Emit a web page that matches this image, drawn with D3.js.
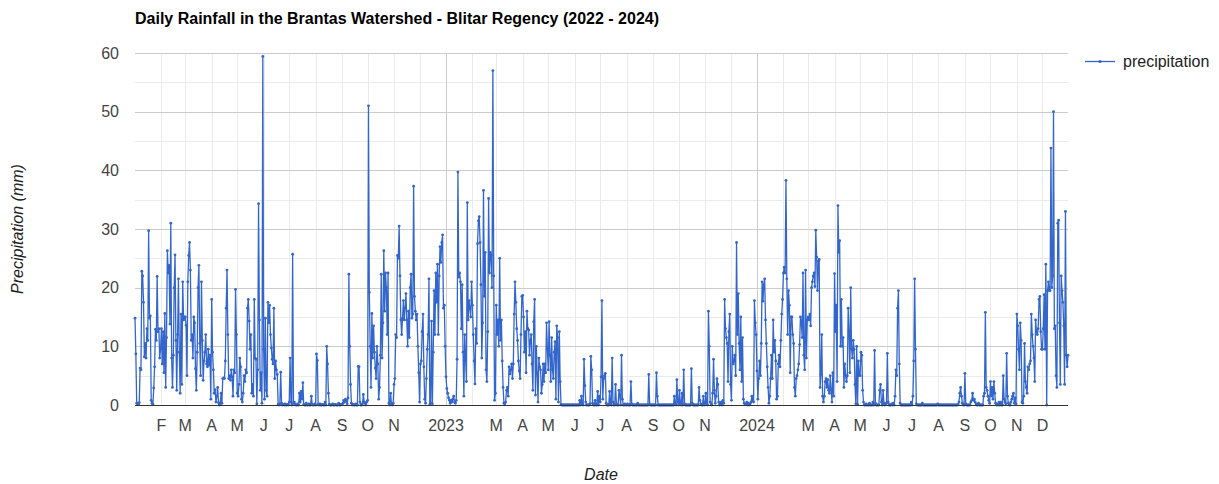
<!DOCTYPE html>
<html><head><meta charset="utf-8">
<script src="https://cdn.jsdelivr.net/npm/d3@7"></script>
<style>body{margin:0;background:#fff}svg{display:block;font-family:Arial,"Liberation Sans",sans-serif}</style>
</head><body><svg id="c" width="1219" height="484"></svg>
<script>
// Daily precipitation (mm), one inner array per month (Jan..Dec)
const rain2022 = [
 [14.8,8.7,0.3,0.2,0.1,0.4,6.3,6.0,22.8,22.0,17.5,8.2,10.5,8.0,13.0,11.0,29.7,14.8,15.2,0.8,0.3,0.1,2.9,6.5,12.9,11.0,21.9,12.5,13.0,8.0,9.5],
 [13.0,7.0,12.5,5.5,15.6,3.0,11.5,26.3,22.5,23.8,13.8,31.0,8.0,3.0,8.5,20.0,25.6,11.0,2.5,12.0,21.5,9.0,2.0,15.5,3.5,21.0,14.5,15.0],
 [15.0,13.6,5.0,21.0,25.5,27.7,23.0,11.0,12.0,8.0,15.0,14.0,6.2,2.5,9.0,20.0,23.8,10.5,5.0,21.0,11.0,4.2,7.5,9.0,12.0,7.0,6.5,9.5,6.8,8.5,1.0],
 [18.0,9.0,6.0,2.0,2.6,0.5,1.5,3.0,0.4,0.0,0.2,2.0,0.3,4.5,4.6,4.5,7.5,16.5,23.0,12.0,4.5,5.0,4.2,6.0,4.8,1.5,6.0,5.5,19.7,12.0],
 [2.0,1.5,3.5,8.0,6.5,1.0,0.5,2.0,5.0,4.0,6.0,5.5,16.5,18.0,14.3,9.5,12.0,2.0,3.5,1.5,18.0,8.0,7.8,0.2,6.0,34.3,14.5,2.5,5.5,0.3,59.4],
 [9.5,1.0,14.8,2.5,1.5,17.5,14.0,17.0,12.0,9.7,7.8,7.0,16.5,4.5,7.5,6.0,5.2,0.1,0.0,0.2,5.6,0.3,0.0,0.1,0.0,0.2,0.0,0.0,0.1,0.0],
 [0.5,8.0,0.5,0.0,25.7,0.3,0.5,0.1,0.0,0.0,0.2,0.0,2.0,0.5,2.3,1.0,3.8,0.1,0.0,0.0,0.3,0.0,0.0,0.2,0.0,0.0,1.5,0.1,0.0,0.0,0.2],
 [0.0,8.7,7.6,0.1,0.0,0.2,0.0,0.0,0.1,0.0,0.0,0.5,0.0,10.0,7.0,2.0,0.1,0.0,0.0,0.0,0.2,0.0,0.0,0.1,0.0,0.0,0.0,0.3,0.0,0.0,0.1],
 [0.1,0.3,0.8,0.5,1.0,0.8,0.2,1.2,22.3,10.0,3.5,0.3,0.0,0.1,0.0,0.0,0.2,0.0,0.0,6.6,6.5,0.5,0.0,0.0,0.2,1.8,0.5,0.3,0.0,0.5],
 [0.8,51.0,19.2,10.0,3.0,15.6,8.0,13.5,9.0,6.3,4.5,10.0,7.0,1.0,3.0,8.5,22.3,8.0,14.0,26.3,16.0,22.5,20.0,12.0,22.5,0.3,0.0,2.0,0.1,0.0,0.3],
 [3.5,4.5,12.0,11.5,25.5,25.0,30.5,22.0,14.5,12.0,14.8,17.8,14.5,16.5,19.0,14.5,10.0,16.0,11.5,20.0,22.3,14.8,15.5,37.3,18.5,16.0,14.5,15.5,10.0,5.5],
 [0.5,7.0,7.5,12.5,15.5,6.5,1.0,0.3,4.5,9.5,12.0,21.5,0.1,0.3,14.3,0.2,9.0,19.5,12.0,22.5,17.5,24.0,12.0,22.0,27.0,24.3,27.7,29.0,16.5,17.0,10.0]
];
const rain2023 = [
 [4.8,2.8,2.0,1.2,0.8,0.3,0.8,0.5,1.0,1.5,0.5,0.3,0.8,7.8,39.7,21.8,22.5,21.0,13.0,20.5,9.0,1.5,12.0,8.0,4.0,34.5,14.5,17.8,16.5,15.0,21.0],
 [17.0,12.0,7.5,3.6,13.0,10.5,27.5,31.4,32.1,27.7,20.5,8.0,14.0,36.6,18.5,26.0,6.0,4.0,12.5,35.2,22.5,26.0,25.5,20.0,57.0,22.0,0.8,2.0],
 [17.0,12.0,14.5,10.0,25.0,11.0,14.5,7.5,3.0,0.3,0.2,0.5,2.5,3.0,1.5,6.5,5.3,6.0,7.0,4.5,7.0,15.5,21.0,17.5,13.0,11.0,7.5,5.8,4.5,12.0,18.5],
 [18.7,15.0,9.0,12.5,5.5,16.0,13.0,12.8,8.5,11.0,12.0,7.0,2.5,14.2,18.0,1.7,10.0,5.5,0.5,8.0,6.5,6.0,2.0,3.5,7.0,4.0,7.0,5.5,14.0,9.5],
 [6.0,14.2,8.5,4.0,11.5,6.0,4.5,9.0,10.8,1.0,13.5,11.5,0.5,12.5,4.0,0.1,0.0,0.0,0.0,0.0,0.0,0.0,0.0,0.0,0.0,0.0,0.0,0.0,0.0,0.0,0.0],
 [0.0,0.0,0.0,0.0,0.0,0.0,0.8,0.0,1.5,0.2,0.0,7.8,3.3,0.5,0.0,0.0,0.0,0.0,0.2,8.3,6.0,0.3,0.0,0.0,0.8,0.0,0.0,2.3,0.0,1.5],
 [0.5,4.8,17.8,1.0,4.5,5.0,5.4,0.3,0.0,0.0,0.0,2.3,0.3,0.0,8.0,0.5,0.0,0.0,3.5,0.2,0.0,0.0,2.5,1.5,0.0,8.5,1.0,0.0,0.0,0.2,0.0],
 [0.0,0.2,0.0,0.0,0.0,4.0,0.2,0.0,0.0,0.0,0.0,0.0,0.0,0.3,0.0,0.0,0.0,0.0,0.0,0.0,0.0,0.0,0.0,0.0,0.0,0.0,5.2,0.1,0.0,0.0,0.0],
 [0.0,0.0,0.0,0.0,5.5,1.5,0.0,0.0,0.0,0.0,0.0,0.0,0.0,0.0,0.0,0.0,0.0,0.0,0.0,0.0,0.0,0.0,0.0,0.0,0.0,1.5,0.2,0.0,4.3,0.5],
 [0.0,2.5,0.3,0.0,2.0,0.0,6.0,0.2,0.0,0.0,0.0,0.0,0.0,0.0,0.0,6.2,0.3,0.0,0.0,0.0,0.0,0.0,0.0,0.0,3.0,0.8,0.2,0.0,0.0,1.5,0.0],
 [0.3,2.0,0.1,0.0,16.0,10.0,0.5,0.2,0.0,2.0,7.8,2.5,0.3,1.5,4.5,3.5,0.5,0.0,0.2,0.5,0.0,0.8,0.3,18.0,13.0,11.5,10.5,4.0,12.5,15.5],
 [3.5,0.8,10.0,7.0,7.5,8.5,5.0,27.7,12.0,19.0,10.5,6.0,15.0,4.0,11.5,1.0,0.3,0.2,0.1,0.5,0.0,0.3,0.0,0.2,0.5,1.5,0.8,0.5,17.8,14.0,12.0]
];
const rain2024 = [
 [5.8,1.0,4.5,7.5,5.0,10.5,21.0,17.7,20.5,21.5,14.5,10.5,6.5,3.0,0.3,1.5,4.5,8.5,4.5,14.5,9.0,11.0,7.5,1.0,1.5,7.0,8.5,6.5,11.0,15.5,18.0],
 [22.5,23.5,22.5,38.3,21.5,12.0,19.5,17.0,5.5,15.0,15.0,12.0,10.5,3.0,1.5,4.5,5.0,6.0,7.0,10.3,15.0,14.3,11.5,22.5,8.5,6.0,23.0,8.0,14.5],
 [15.0,14.5,15.5,13.5,20.0,21.0,22.0,22.5,20.2,29.8,25.2,19.5,24.5,24.8,3.0,5.2,12.0,1.5,0.5,1.5,4.0,4.5,3.0,4.3,2.5,2.0,5.0,2.5,0.5,5.5,1.5],
 [22.4,12.5,17.0,4.0,34.0,26.0,28.0,10.0,18.0,10.0,11.5,3.0,7.0,5.0,4.0,5.0,16.5,12.5,5.5,20.0,9.5,8.0,11.0,9.5,3.5,0.2,10.0,0.1,7.5,5.0],
 [5.0,9.0,8.5,2.5,0.5,0.0,0.0,0.2,0.0,0.0,0.0,0.3,0.0,0.0,0.0,0.5,0.0,9.3,0.3,0.0,0.0,0.0,0.0,2.5,3.5,0.5,0.0,2.5,0.3,0.0,0.2],
 [0.3,8.8,0.5,0.0,0.0,0.0,0.2,0.0,0.3,0.0,1.5,6.0,5.0,16.5,19.5,7.0,0.3,0.0,0.0,0.0,0.0,0.0,0.0,0.0,0.0,0.0,0.0,0.0,0.0,0.5],
 [0.0,1.5,7.5,21.5,9.5,0.2,0.0,0.0,0.0,0.0,0.0,0.0,0.3,0.0,0.0,0.0,0.0,0.0,0.0,0.0,0.0,0.0,0.0,0.0,0.0,0.0,0.0,0.0,0.0,0.0,0.2],
 [0.0,0.0,0.0,0.0,0.0,0.0,0.0,0.0,0.0,0.0,0.0,0.0,0.0,0.0,0.0,0.0,0.0,0.0,0.0,0.0,0.0,0.0,0.0,0.1,0.5,2.0,3.0,1.5,0.3,0.0,0.0],
 [5.4,0.2,0.0,0.0,0.0,0.0,0.0,0.5,0.8,2.0,0.8,1.0,0.5,0.2,0.0,0.0,0.3,0.0,0.0,0.0,0.0,0.0,1.5,2.0,15.8,3.0,2.5,1.5,0.8,0.3],
 [4.0,1.5,3.0,1.0,4.0,2.0,0.3,0.0,0.2,0.0,0.5,0.0,0.5,0.0,0.0,5.0,1.0,0.5,0.2,8.8,1.5,0.3,0.0,0.0,0.5,1.0,1.5,2.0,0.3,1.2,0.2],
 [15.5,13.5,9.5,6.0,14.0,11.0,0.5,0.3,1.5,10.5,4.0,3.0,2.0,6.5,6.0,7.0,7.5,15.5,12.0,10.0,8.0,4.0,14.5,12.5,12.0,13.0,18.0,18.5,12.5,9.5],
 [9.5,13.0,18.8,9.5,24.0,0.0,19.5,21.0,19.5,19.5,43.8,20.0,22.0,50.0,13.0,13.5,5.0,3.0,31.0,31.5,14.0,3.5,22.0,19.5,17.5,13.5,3.5,33.0,8.5,6.5,8.5]
];
const xTickDates = ["2022-02-01","2022-03-01","2022-04-01","2022-05-01","2022-06-01","2022-07-01","2022-08-01","2022-09-01","2022-10-01","2022-11-01",
 "2023-01-01","2023-03-01","2023-04-01","2023-05-01","2023-06-01","2023-07-01","2023-08-01","2023-09-01","2023-10-01","2023-11-01",
 "2024-01-01","2024-03-01","2024-04-01","2024-05-01","2024-06-01","2024-07-01","2024-08-01","2024-09-01","2024-10-01","2024-11-01","2024-12-01"];
const xTickLabels = ["F","M","A","M","J","J","A","S","O","N","2023","M","A","M","J","J","A","S","O","N","2024","M","A","M","J","J","A","S","O","N","D"];
const yTicks = [0,10,20,30,40,50,60];
const yMinorTicks = [5,15,25,35,45,55];
const seriesName = "precipitation";

const data = [];
[[2022, rain2022],[2023, rain2023],[2024, rain2024]].forEach(([yr, months]) =>
  months.forEach((arr, m) => arr.forEach((v, i) => data.push({date: new Date(Date.UTC(yr, m, i + 1)), value: v}))));

const svg = d3.select("#c");
const L = 135, R = 1068, T = 53, B = 405;
const x = d3.scaleUtc().domain([new Date(Date.UTC(2022,0,1)), new Date(Date.UTC(2024,11,31))]).range([L, R]);
const y = d3.scaleLinear().domain([0, 60]).range([B, T]);

// minor horizontal grid
svg.append("g").selectAll("line").data(yMinorTicks).join("line")
  .attr("x1", L).attr("x2", R).attr("y1", d => Math.round(y(d)) + 0.5).attr("y2", d => Math.round(y(d)) + 0.5)
  .attr("stroke", "#ebebeb");
// vertical month grid
const monthStarts = d3.utcMonths(new Date(Date.UTC(2022,1,1)), new Date(Date.UTC(2025,0,1)));
svg.append("g").selectAll("line").data(monthStarts).join("line")
  .attr("x1", d => Math.round(x(d)) + 0.5).attr("x2", d => Math.round(x(d)) + 0.5)
  .attr("y1", T).attr("y2", B)
  .attr("stroke", d => d.getUTCMonth() === 0 ? "#cccccc" : "#ebebeb");
// major horizontal grid
svg.append("g").selectAll("line").data(yTicks.filter(d => d > 0)).join("line")
  .attr("x1", L).attr("x2", R).attr("y1", d => Math.round(y(d)) + 0.5).attr("y2", d => Math.round(y(d)) + 0.5)
  .attr("stroke", "#cccccc");

// line
const line = d3.line().x(d => x(d.date)).y(d => y(d.value));
svg.append("path").datum(data).attr("d", line).attr("fill", "none")
  .attr("stroke", "#3366cc").attr("stroke-width", 1.3).attr("stroke-linejoin", "round");
svg.append("g").selectAll("circle").data(data).join("circle")
  .attr("cx", d => x(d.date)).attr("cy", d => y(d.value)).attr("r", 1.4).attr("fill", "#3366cc");

// baseline
svg.append("line").attr("x1", L).attr("x2", R).attr("y1", B + 0.5).attr("y2", B + 0.5).attr("stroke", "#333");

// y labels
svg.append("g").selectAll("text").data(yTicks).join("text")
  .attr("x", 119).attr("y", d => y(d)).attr("dy", "0.36em").attr("text-anchor", "end")
  .attr("font-size", 16).attr("fill", "#444").text(d => d);
// x labels
svg.append("g").selectAll("text").data(xTickDates).join("text")
  .attr("x", d => x(new Date(d + "T00:00:00Z"))).attr("y", 431).attr("text-anchor", "middle")
  .attr("font-size", 16).attr("fill", "#444").text((d, i) => xTickLabels[i]);

// title
svg.append("text").attr("x", 135).attr("y", 24).attr("font-size", 16).attr("font-weight", "bold")
  .attr("fill", "#000").text("Daily Rainfall in the Brantas Watershed - Blitar Regency (2022 - 2024)");
// axis titles
svg.append("text").attr("transform", "translate(23,229) rotate(-90)").attr("text-anchor", "middle")
  .attr("font-size", 16).attr("font-style", "italic").attr("fill", "#222").text("Precipitation (mm)");
svg.append("text").attr("x", 601).attr("y", 480).attr("text-anchor", "middle")
  .attr("font-size", 16).attr("font-style", "italic").attr("fill", "#222").text("Date");

// legend
const lg = svg.append("g");
lg.append("line").attr("x1", 1085).attr("x2", 1115).attr("y1", 61.5).attr("y2", 61.5).attr("stroke", "#3366cc").attr("stroke-width", 1.3);
lg.append("circle").attr("cx", 1100).attr("cy", 61.5).attr("r", 1.6).attr("fill", "#3366cc");
lg.append("text").attr("x", 1123).attr("y", 67).attr("font-size", 16).attr("fill", "#222").text(seriesName);
</script></body></html>
